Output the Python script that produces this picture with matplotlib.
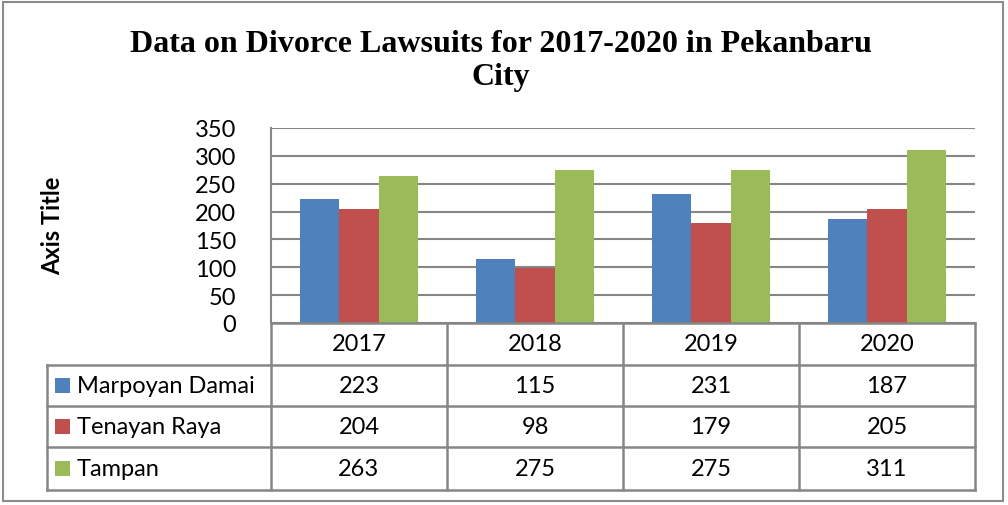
import matplotlib
matplotlib.use("Agg")
import matplotlib.pyplot as plt
from matplotlib.patches import Rectangle
import numpy as np

years = ["2017", "2018", "2019", "2020"]
series_names = ["Marpoyan Damai", "Tenayan Raya", "Tampan"]
marpoyan = [223, 115, 231, 187]
tenayan = [204, 98, 179, 205]
tampan = [263, 275, 275, 311]
colors = ["#4F81BD", "#C0504D", "#9BBB59"]
yticks = [0, 50, 100, 150, 200, 250, 300, 350]

W, H = 1008, 506
fig = plt.figure(figsize=(W / 100, H / 100), dpi=100)
fig.patch.set_facecolor("white")

def fr(x0, y0, x1, y1):
    return [x0 / W, 1 - y1 / H, (x1 - x0) / W, (y1 - y0) / H]

grid_col = "#868686"
tick_font = "Lato"
fs = 17

# outer border
fig.add_artist(Rectangle((2.5 / W, 1 - 502 / H), 1000.5 / W, 499.5 / H,
                         transform=fig.transFigure, fill=False,
                         edgecolor="#8c8c8c", linewidth=1.5))

# main axes
px0, px1, py0, py1 = 271, 975, 129, 324
ax = fig.add_axes(fr(px0, py0, px1, py1))
data = [marpoyan, tenayan, tampan]
x = np.arange(len(years))
bw = 1 / 4.5
for i, (vals, c) in enumerate(zip(data, colors)):
    ax.bar(x + (i - 1) * bw, vals, width=bw, color=c, edgecolor="none", zorder=3)
ax.set_xlim(-0.5, 3.5)
ax.set_ylim(0, 350)
ax.set_yticks(yticks)
ax.set_yticklabels([str(v) for v in yticks], fontfamily=tick_font, fontsize=fs)
ax.set_xticks([])
ax.yaxis.grid(True, color=grid_col, linewidth=1.5, zorder=0)
for s in ["top", "right", "bottom"]:
    ax.spines[s].set_visible(False)
ax.spines["left"].set_color(grid_col)
ax.spines["left"].set_linewidth(1.5)
ax.tick_params(axis="y", length=0, pad=25)

fig.text(53 / W, 1 - 226 / H, "Axis Title", rotation=90, ha="center", va="center",
         fontfamily="Lato", fontweight="bold", fontsize=17)

# table axes
tx0 = 47
unit_px = (px1 - px0) / 4
left_units = -0.5 - (px0 - tx0) / unit_px
tax = fig.add_axes(fr(tx0, 324, px1, 490.5))
tax.set_xlim(left_units, 3.5)
total_h = 490.5 - 324
tax.set_ylim(total_h, 0)
tax.axis("off")
lw = 1.8
rows = [0, 42, 83, 124, 166.5]
for k, r in enumerate(rows):
    xl = -0.5 if k == 0 else left_units
    tax.plot([xl, 3.5], [r, r], color=grid_col, lw=lw, solid_capstyle="projecting",
             clip_on=False)
for b in [-0.5, 0.5, 1.5, 2.5, 3.5]:
    tax.plot([b, b], [rows[0], rows[-1]], color=grid_col, lw=lw, clip_on=False)
tax.plot([left_units, left_units], [rows[1], rows[-1]], color=grid_col, lw=lw,
         clip_on=False)

for j, yr in enumerate(years):
    tax.text(j, (rows[0] + rows[1]) / 2, yr, ha="center", va="center",
             fontfamily=tick_font, fontsize=fs)
for i, (name, vals, c) in enumerate(zip(series_names, data, colors)):
    yc = (rows[i + 1] + rows[i + 2]) / 2
    tax.add_patch(Rectangle((left_units + 8 / unit_px, yc - 7.5), 15 / unit_px, 15,
                            facecolor=c, edgecolor="none", clip_on=False))
    tax.text(left_units + 30 / unit_px, yc, name, ha="left", va="center",
             fontfamily=tick_font, fontsize=fs)
    for j, v in enumerate(vals):
        tax.text(j, yc, str(v), ha="center", va="center",
                 fontfamily=tick_font, fontsize=fs)

fig.text(501 / W, 1 - 61 / H, "Data on Divorce Lawsuits for 2017-2020 in Pekanbaru\nCity",
         ha="center", va="center", fontfamily="Liberation Serif", fontweight="bold",
         fontsize=23, linespacing=1.15)

fig.savefig("out.png", dpi=100, facecolor="white")
